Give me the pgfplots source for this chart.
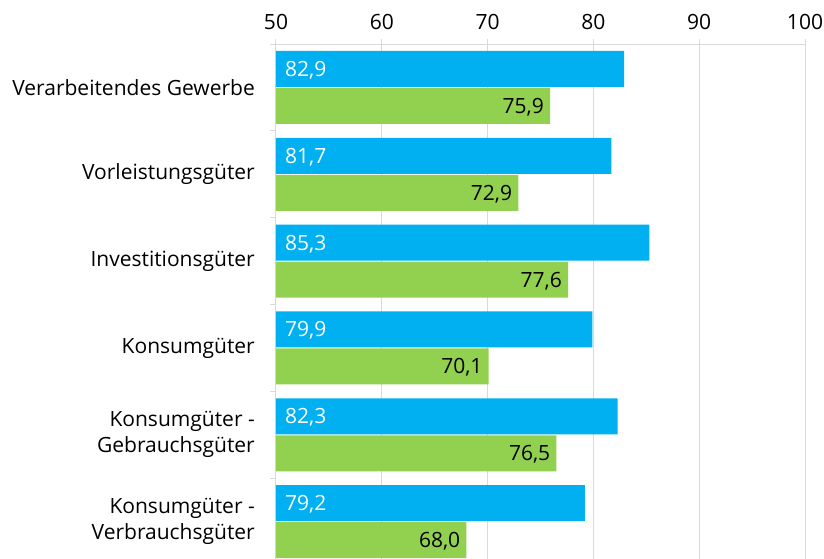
\documentclass[border=0pt]{standalone}
\usepackage{fontspec}
\setmainfont{Open Sans}
\usepackage{pgfplots}
\pgfplotsset{compat=1.18}
\usepackage{pgfplotstable}
\definecolor{barblue}{HTML}{00B0F0}
\definecolor{bargreen}{HTML}{92D050}
\definecolor{gridgray}{HTML}{D9D9D9}

\pgfplotstableread{
idx blue green
0 82.9 75.9
1 81.7 72.9
2 85.3 77.6
3 79.9 70.1
4 82.3 76.5
5 79.2 68.0
}\datatable

\begin{document}
\begin{tikzpicture}[font=\fontsize{21}{26}\selectfont]
\useasboundingbox (-276pt,44pt) rectangle (548pt,-515pt);
\begin{axis}[
  at={(0,0)}, anchor=north west,
  scale only axis, width=529pt, height=521pt,
  xmin=50, xmax=100, ymin=-0.5, ymax=5.5, y dir=reverse,
  axis x line*=top, axis y line*=left,
  axis line style={draw=gridgray, line width=1pt},
  xtick={50,60,...,100},
  xmajorgrids, grid style={draw=gridgray, line width=1pt},
  ytick={0,...,5},
  yticklabels={Verarbeitendes Gewerbe, Vorleistungsgüter, Investitionsgüter, Konsumgüter, {Konsumgüter -\\Gebrauchsgüter}, {Konsumgüter -\\Verbrauchsgüter}},
  minor ytick={-0.5,0.5,...,5.5},
  every major y tick/.append style={draw=none},
  every minor y tick/.append style={draw=gridgray, line width=1pt},
  every major x tick/.append style={draw=gridgray, line width=1pt},
  tick align=outside, major tick length=5pt, minor tick length=6pt,
  yticklabel style={align=right, inner sep=0pt, xshift=-16pt},
  xticklabel style={inner sep=0pt, yshift=9pt},
  /pgf/number format/assume math mode=true,
  clip=true,
]
\addplot[xbar, bar width=36pt, bar shift=18.5pt, fill=barblue, draw=none] table[x=blue, y=idx] {\datatable};
\addplot[xbar, bar width=36pt, bar shift=-18.5pt, fill=bargreen, draw=none] table[x=green, y=idx] {\datatable};
\addplot[draw=none, mark=none, nodes near coords={\pgfmathprintnumber[fixed,fixed zerofill,precision=1,use comma]{\pgfplotspointmeta}},
  point meta={\thisrow{blue}},
  nodes near coords style={anchor=base west, inner sep=0pt, text=white, xshift=9pt, yshift=11pt}]
  table[x expr=50, y=idx] {\datatable};
\addplot[draw=none, mark=none, nodes near coords={\pgfmathprintnumber[fixed,fixed zerofill,precision=1,use comma]{\pgfplotspointmeta}},
  point meta={\thisrow{green}},
  nodes near coords style={anchor=base east, inner sep=0pt, text=black, xshift=-6pt, yshift=-26pt}]
  table[x=green, y=idx] {\datatable};
\end{axis}
\end{tikzpicture}
\end{document}
